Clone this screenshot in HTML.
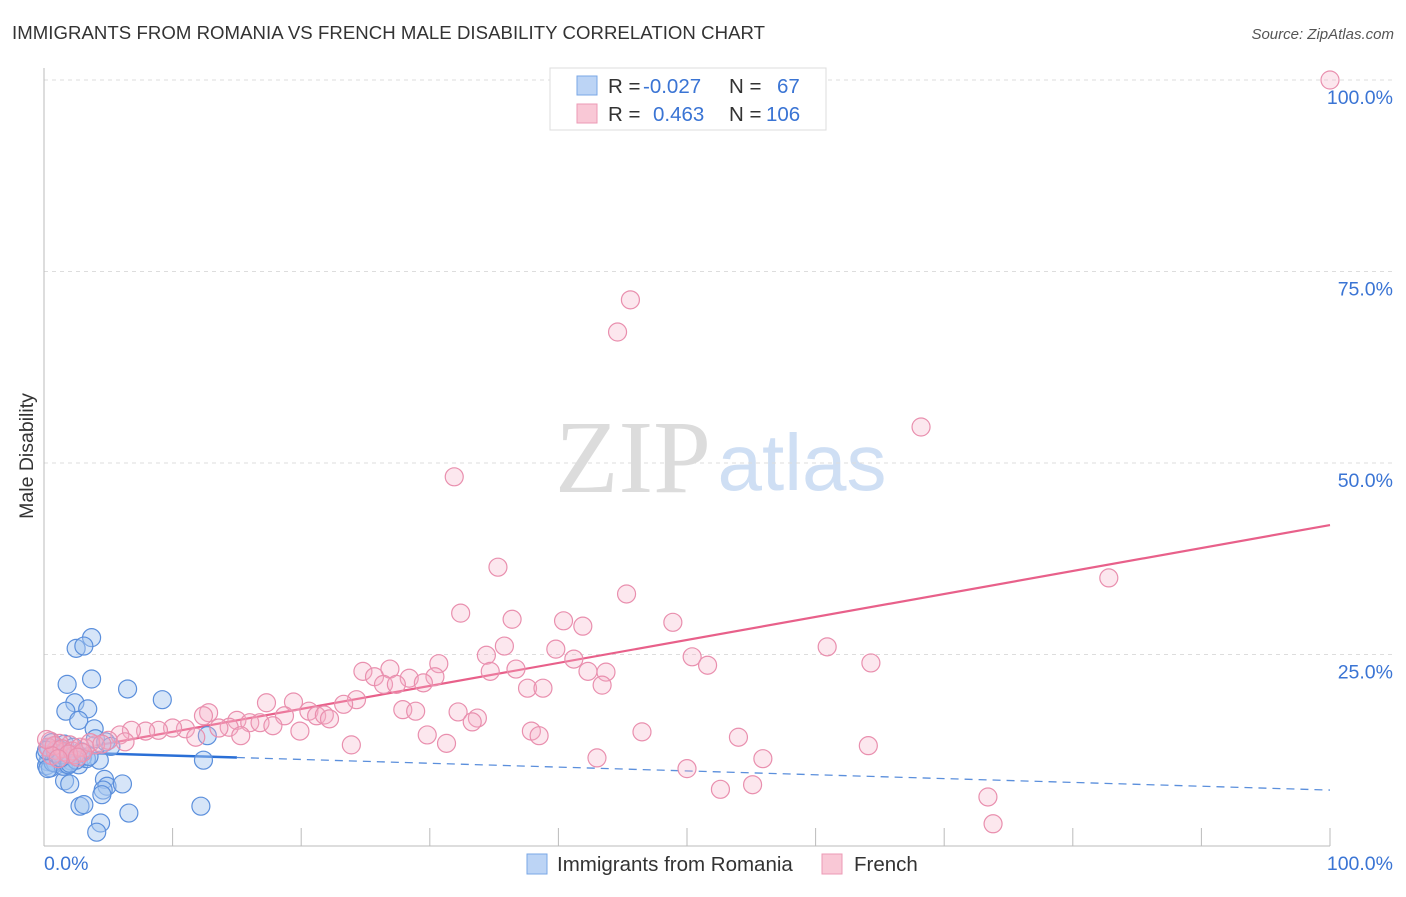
<!DOCTYPE html>
<html><head><meta charset="utf-8"><style>
body{margin:0;background:#fff;font-family:"Liberation Sans",sans-serif;}
svg text{font-family:"Liberation Sans",sans-serif;}
</style></head><body>
<svg id="chart" width="1406" height="892" xmlns="http://www.w3.org/2000/svg">
<text x="12" y="39" font-size="18.6" fill="#333" textLength="753">IMMIGRANTS FROM ROMANIA VS FRENCH MALE DISABILITY CORRELATION CHART</text>
<text x="1394" y="39" font-size="15" fill="#555" font-style="italic" text-anchor="end">Source: ZipAtlas.com</text>
<text x="33" y="456" font-size="19.5" fill="#333" transform="rotate(-90 33 456)" text-anchor="middle">Male Disability</text>
<g>
<text x="633" y="492" font-size="104" fill="#dcdcdc" text-anchor="middle" style="font-family:'Liberation Serif',serif">ZIP</text>
<text x="802" y="490" font-size="80" fill="#cfdff4" text-anchor="middle">atlas</text>
</g>
<g id="grid"></g><g id="axes"></g><g id="trends"></g><g id="pts"></g>
<g>
<rect x="550" y="68" width="276" height="62" fill="#fff" stroke="#ddd"/>
<rect x="577" y="76" width="20" height="19" fill="#bcd4f5" stroke="#7aa7e6"/>
<rect x="577" y="104" width="20" height="19" fill="#f9c8d6" stroke="#ec9ab5"/>
<text x="608" y="93" font-size="20.5" fill="#333">R = <tspan fill="#3a74d4" x="643">-0.027</tspan></text>
<text x="729" y="93" font-size="20.5" fill="#333">N = <tspan fill="#3a74d4" x="777">67</tspan></text>
<text x="608" y="121" font-size="20.5" fill="#333">R = <tspan fill="#3a74d4" x="653">0.463</tspan></text>
<text x="729" y="121" font-size="20.5" fill="#333">N = <tspan fill="#3a74d4" x="766">106</tspan></text>
</g>
<g>
<rect x="527" y="854" width="20" height="20" fill="#bcd4f5" stroke="#7aa7e6"/>
<text x="557" y="871" font-size="20.5" fill="#333">Immigrants from Romania</text>
<rect x="822" y="854" width="20" height="20" fill="#f9c8d6" stroke="#ec9ab5"/>
<text x="854" y="871" font-size="20.5" fill="#333">French</text>
</g>
</svg>
<script>
const yTicks=[25,50,75,100];
const yTickLabels=["25.0%","50.0%","75.0%","100.0%"];
const xTickCount=10;
const xLabels=["0.0%","100.0%"];
const blueX=[3.7,2.5,3.1,1.8,3.7,6.5,9.2,2.4,1.7,3.4,2.7,3.9,12.7,4,4.8,12.4,4.3,2.7,1.6,2,4.7,4.9,4.6,4.5,6.1,2.8,3.1,12.2,6.6,4.4,4.1,0.3,0.6,1,1.4,1.8,2.2,0.2,0.5,0.9,1.3,1.7,2.1,2.6,3,0.4,0.8,1.2,1.6,2.3,3.3,0.1,0.7,1.5,2.9,3.5,0.3,1.1,1.9,2.5,0.6,1.4,2,0.9,1.3,0.2,5.2];
const blueY=[27.2,25.8,26.1,21.1,21.8,20.5,19.1,18.7,17.6,17.9,16.4,15.3,14.4,14,13.6,11.2,11.2,10.6,8.5,8.1,8.7,7.8,7.3,6.7,8.1,5.2,5.4,5.2,4.3,3,1.8,11,11.5,12,12.4,12.2,11.8,10.5,10.2,10.8,11.3,10.7,11.1,12,11.6,12.8,13.1,12.6,13.3,12.9,11.4,11.9,10.9,10.4,12.3,11.7,10.1,12.7,10.6,11.2,13.5,11.9,10.8,12.1,11.5,12.5,13];
const pinkX=[100,45.6,44.6,68.2,31.9,82.8,35.3,32.4,45.3,36.4,40.4,41.9,48.9,35.8,39.8,60.9,34.4,50.4,51.6,64.3,41.2,24.8,26.9,30.7,34.7,36.7,42.3,43.7,25.7,28.4,30.4,26.4,27.4,29.5,37.6,38.8,43.4,24.3,23.3,17.3,19.4,20.6,27.9,28.9,32.2,33.7,33.3,12.8,12.4,15,18.7,21.2,21.8,22.2,16,16.8,17.8,14.4,13.6,11,10,8.9,7.9,6.8,5.9,19.9,37.9,38.5,46.5,11.8,15.3,29.8,54,23.9,31.3,64.1,5,4,3.2,2,1.2,0.5,0.9,1.6,2.4,43,55.9,50,52.6,55.1,73.4,73.8,0.3,0.8,1.4,2.2,2.8,3.6,4.5,0.6,1.9,3,0.2,1.1,2.6,6.3];
const pinkY=[100,71.3,67.1,54.7,48.2,35,36.4,30.4,32.9,29.6,29.4,28.7,29.2,26.1,25.7,26,24.9,24.7,23.6,23.9,24.4,22.8,23.1,23.8,22.8,23.1,22.8,22.7,22.1,21.9,22.1,21.1,21.1,21.3,20.6,20.6,21,19.1,18.5,18.7,18.8,17.6,17.8,17.6,17.5,16.7,16.2,17.4,17,16.4,17,17,17.1,16.6,16.1,16.1,15.7,15.5,15.4,15.3,15.4,15.1,15,15.1,14.5,15,15,14.4,14.9,14.2,14.4,14.5,14.2,13.2,13.4,13.1,13.8,13.2,12.8,13.2,13.4,13.7,12.5,12.3,11.9,11.5,11.4,10.1,7.4,8,6.4,2.9,12.9,13.1,12.7,12.4,12.9,13.5,13.3,11.8,12,12.2,13.9,11.4,11.6,13.6];
const blueTrend=[12.3,-0.05];
const pinkTrend=[11.9,0.3];
const X0=44,X1=1330,Y0=846,Y100=80;
const sx=v=>X0+(X1-X0)*v/100;
const sy=v=>Y0-(Y0-Y100)*v/100;
const NS="http://www.w3.org/2000/svg";
function mk(tag,attrs,parent){const e=document.createElementNS(NS,tag);for(const k in attrs)e.setAttribute(k,attrs[k]);parent.appendChild(e);return e;}
const grid=document.getElementById('grid'),axes=document.getElementById('axes'),tr=document.getElementById('trends'),pts=document.getElementById('pts');
yTicks.forEach((t,i)=>{
 const l=mk('line',{x1:X0,x2:1395,y1:sy(t),y2:sy(t),stroke:'#ddd','stroke-dasharray':'4,4'},grid);
 
 
 const tx=mk('text',{x:1393,y:sy(t)+24,'font-size':19.5,fill:'#3a74d4','text-anchor':'end'},grid);
 tx.textContent=yTickLabels[i];
 
 
});
const ax=mk('line',{x1:X0,x2:X0,y1:68,y2:Y0,stroke:'#bbb'},axes);


const bx=mk('line',{x1:X0,x2:X1,y1:Y0,y2:Y0,stroke:'#bbb'},axes);


for(let i=1;i<=xTickCount;i++){const v=i*100/xTickCount;
 const tk=mk('line',{x1:sx(v),x2:sx(v),y1:828,y2:Y0,stroke:'#bbb'},axes);
 
 }
const xl0=mk('text',{x:44,y:870,'font-size':19.5,fill:'#3a74d4'},axes);xl0.textContent=xLabels[0];


const xl1=mk('text',{x:1393,y:870,'font-size':19.5,fill:'#3a74d4','text-anchor':'end'},axes);xl1.textContent=xLabels[1];


function draw(xs,ys,fill,stroke,name){xs.forEach((x,i)=>{
 const c=mk('circle',{cx:sx(x),cy:sy(ys[i]),r:9,fill:fill,stroke:stroke,'stroke-width':1.2},pts);
 
 });}
draw(blueX,blueY,'rgba(165,198,240,0.45)','#5b8fdc','point-romania');
draw(pinkX,pinkY,'rgba(246,175,198,0.3)','#e98fae','point-french');
const f=(t,x)=>t[0]+t[1]*x;
const b1=mk('line',{x1:sx(0),y1:sy(f(blueTrend,0)),x2:sx(15),y2:sy(f(blueTrend,15)),stroke:'#2a6fd6','stroke-width':2.5},tr);


const b2=mk('line',{x1:sx(15),y1:sy(f(blueTrend,15)),x2:sx(100),y2:sy(f(blueTrend,100)),stroke:'#5b8fdc','stroke-width':1.3,'stroke-dasharray':'8,6'},tr);


const p1=mk('line',{x1:sx(4),y1:sy(f(pinkTrend,4)),x2:sx(100),y2:sy(f(pinkTrend,100)),stroke:'#e8608a','stroke-width':2.2},tr);


</script>
</body></html>
